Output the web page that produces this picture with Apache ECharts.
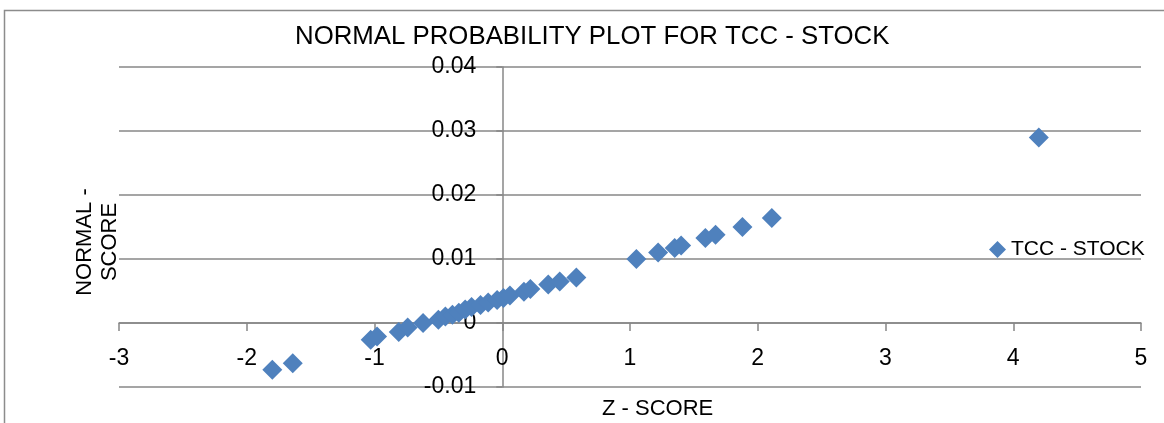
<!DOCTYPE html>
<html>
<head>
<meta charset="utf-8">
<style>
  html, body { margin: 0; padding: 0; background: #ffffff; }
  #chart { width: 1164px; height: 423px; }
</style>
<script src="https://cdn.jsdelivr.net/npm/echarts@6/dist/echarts.min.js"></script>
</head>
<body>
<div id="chart"></div>
<script>
// Z-scores (x) and normal scores (y) for the TCC stock returns
const zScores = [
  -1.80, -1.64, -1.03, -0.98, -0.81, -0.74, -0.62, -0.50, -0.445, -0.39,
  -0.34, -0.29, -0.24, -0.17, -0.11, -0.04, 0.01, 0.06, 0.17, 0.22,
  0.36, 0.45, 0.58, 1.05, 1.22, 1.35, 1.40, 1.59, 1.67, 1.88,
  2.11, 4.20
];
const normalScores = [
  -0.0073, -0.0063, -0.0026, -0.0021, -0.0014, -0.0007, 0.0000, 0.0005, 0.0010, 0.0013,
  0.0016, 0.0021, 0.0025, 0.0028, 0.0032, 0.0036, 0.0039, 0.0043, 0.0049, 0.0053,
  0.0060, 0.0065, 0.0071, 0.0100, 0.0110, 0.0117, 0.0121, 0.0133, 0.0138, 0.0150,
  0.0164, 0.0290
];
const seriesName = 'TCC - STOCK';
const chartTitle = 'NORMAL PROBABILITY PLOT FOR TCC - STOCK';
const xTitle = 'Z - SCORE';
const yTitleLines = ['NORMAL -', 'SCORE'];

// axis ranges
const xMin = -3, xMax = 5, xStep = 1;
const yMin = -0.01, yMax = 0.04, yStep = 0.01;

const FONT = 'Liberation Sans';
const GRAY = '#878787';
const BLUE = '#4F81BD';

// plot area (px)
const W = 1164, H = 423;
const gridBox = { left: 119, right: 23, top: 67, bottom: 36 };
const plotW = W - gridBox.left - gridBox.right;
const plotH = H - gridBox.top - gridBox.bottom;

// both axes cross at the origin: shift each axis from the grid edge to zero
const xAxisShift = -plotH * (0 - yMin) / (yMax - yMin);
const yAxisShift = -plotW * (0 - xMin) / (xMax - xMin);

const points = zScores.map((z, i) => [z, normalScores[i]]);

const chart = echarts.init(document.getElementById('chart'), null, { renderer: 'canvas' });
chart.setOption({
  backgroundColor: '#ffffff',
  animation: false,
  textStyle: { fontFamily: FONT, color: '#000' },
  title: {
    text: chartTitle,
    left: 290,
    top: 19,
    textStyle: { fontFamily: FONT, fontSize: 25.8, fontWeight: 'normal', color: '#000' }
  },
  legend: {
    data: [{ name: seriesName, icon: 'diamond' }],
    left: 984,
    top: 234,
    itemWidth: 17,
    itemHeight: 17,
    textStyle: { fontFamily: FONT, fontSize: 21, color: '#000' }
  },
  grid: Object.assign({ containLabel: false, outerBoundsMode: 'none' }, gridBox),
  xAxis: {
    type: 'value',
    min: xMin,
    max: xMax,
    interval: xStep,
    offset: xAxisShift,
    axisLine: { onZero: false, lineStyle: { color: GRAY, width: 1.5 } },
    axisTick: { show: true, length: 8, lineStyle: { color: GRAY, width: 1.5 } },
    axisLabel: { margin: 24, fontFamily: FONT, fontSize: 23, color: '#000' },
    splitLine: { show: false }
  },
  yAxis: {
    type: 'value',
    min: yMin,
    max: yMax,
    interval: yStep,
    offset: yAxisShift,
    axisLine: { show: true, onZero: false, lineStyle: { color: GRAY, width: 1.5 } },
    axisTick: { show: true, length: 6, lineStyle: { color: GRAY, width: 1.5 } },
    axisLabel: { margin: 26, fontFamily: FONT, fontSize: 23, color: '#000' },
    splitLine: { show: true, lineStyle: { color: GRAY, width: 1.5 } }
  },
  graphic: [
    {
      type: 'rect',
      silent: true,
      shape: { x: 4.5, y: 10.5, width: 1200, height: 500 },
      style: { fill: 'none', stroke: '#8c8c8c', lineWidth: 1.5 },
      z: -10
    },
    {
      type: 'text',
      left: 602,
      top: 398,
      style: { text: xTitle, font: '22px "' + FONT + '"', fill: '#000' }
    },
    {
      type: 'text',
      x: 97,
      y: 242,
      rotation: Math.PI / 2,
      style: {
        text: yTitleLines.join('\n'),
        font: '22px "' + FONT + '"',
        fill: '#000',
        align: 'center',
        verticalAlign: 'middle',
        lineHeight: 25
      }
    }
  ],
  series: [{
    name: seriesName,
    type: 'scatter',
    symbol: 'diamond',
    symbolSize: 20,
    itemStyle: { color: BLUE, opacity: 1 },
    data: points
  }]
});
</script>
</body>
</html>
